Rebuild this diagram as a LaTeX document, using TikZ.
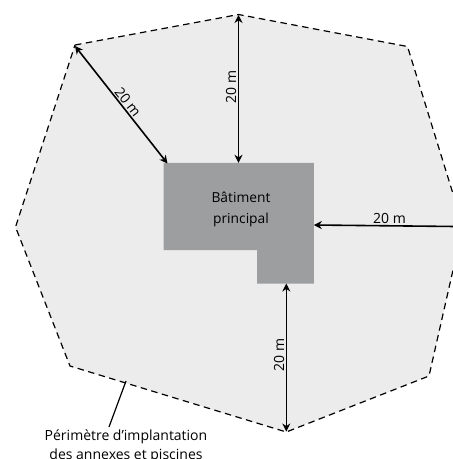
\documentclass[tikz,border=0pt]{standalone}
\usepackage{fontspec}
\setmainfont{Open Sans}
\usetikzlibrary{arrows.meta}
\definecolor{zone}{HTML}{ECECEC}
\definecolor{bati}{HTML}{9D9EA0}
\tikzset{
  perim/.style={draw=black,fill=zone,line width=1.2pt,dash pattern=on 6.5pt off 4.5pt},
  cote/.style={draw=black,line width=1.6pt,{Stealth[length=8pt,width=8pt]}-{Stealth[length=8pt,width=8pt]}},
  lab/.style={inner sep=0pt,font=\fontsize{14}{16}\selectfont,text=black},
  leader/.style={draw=black,line width=1.2pt}
}
\begin{document}
\begin{tikzpicture}[x=1pt,y=-1pt]
\useasboundingbox (0,0) rectangle (453,459);
\clip (0,0) rectangle (453,459);
\coordinate (p1) at (75,45);
\coordinate (p2) at (238.5,14.5);
\coordinate (p3) at (407.5,46.5);
\coordinate (p4) at (463,226);
\coordinate (p5) at (429,376);
\coordinate (p6) at (286.3,432);
\coordinate (p7) at (70,366);
\coordinate (p8) at (15.5,227);
\path[perim] (p1) -- (p2) -- (p3) -- (p4) -- (p5) -- (p6) -- (p7) -- (p8) -- cycle;
\fill[bati] (163.7,162.8) -- (313.8,162.8) -- (313.8,283.5) -- (257,283.5) -- (257,250) -- (163.7,250) -- cycle;
\coordinate (bTop) at (238.5,162.8);
\coordinate (bCorner) at (167.5,163.5);
\coordinate (bRight) at (313.8,225);
\coordinate (bBottom) at (286.3,283.5);
\coordinate (edgeR) at (465,226.6);
\coordinate (edgeTop) at (238.5,15);
\coordinate (edgeBot) at (286.3,431.5);
\coordinate (edgeTL) at (75,46);
\coordinate (leadA) at (126,381);
\coordinate (leadB) at (109,427);
\draw[cote] (edgeTL) -- (bCorner);
\draw[cote] (edgeTop) -- (bTop);
\draw[cote] (edgeR) -- (bRight);
\draw[cote] (edgeBot) -- (bBottom);
\draw[leader] (leadA) -- (leadB);
\node[lab,rotate=-52] (l1) at (128,102) {20 m};
\node[lab,rotate=90] (l2) at (231,87) {20 m};
\node[lab] (l3) at (389.5,218.5) {20 m};
\node[lab,rotate=90] (l4) at (279,355) {20 m};
\node[lab,align=center,font=\fontsize{13.8}{21}\selectfont] (b) at (241,209.5) {Bâtiment\\principal};
\node[lab,align=center,font=\fontsize{14}{19}\selectfont,anchor=north] (t) at (126,430) {Périmètre d’implantation\\des annexes et piscines};
\end{tikzpicture}
\end{document}
